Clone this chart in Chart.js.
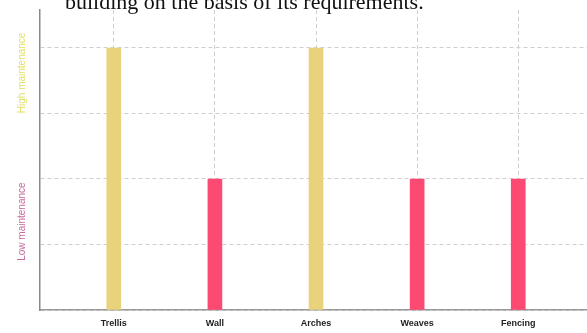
<!DOCTYPE html>
<html>
<head>
<meta charset="utf-8">
<script src="https://cdn.jsdelivr.net/npm/chart.js@4/dist/chart.umd.min.js"></script>
<style>
  html, body { margin: 0; padding: 0; background: #fff; }
  #wrap { position: relative; width: 587px; height: 333px; overflow: hidden; }
  #heading {
    position: absolute; left: 65px; top: -11px; margin: 0;
    font: 22px "Liberation Serif", "Times New Roman", serif; color: #111;
    white-space: nowrap; z-index: 2;
  }
  canvas { position: absolute; left: 0; top: 0; }
</style>
</head>
<body>
<div id="wrap">
  <p id="heading">building on the basis of its requirements.</p>
  <canvas id="chart" width="587" height="333"></canvas>
</div>
<script>
// Structures and their maintenance level (4 = high, 2 = low)
const categories = ['Trellis', 'Wall', 'Arches', 'Weaves', 'Fencing'];
const maintenance = [4, 2, 4, 2, 2];
const levelNames = ['High maintenance', 'Low maintenance'];
const levelValues = [3.62, 1.35];

const YELLOW = '#e9d27c';
const PINK = '#fd4a72';
const barColors = maintenance.map(v => (v >= 4 ? YELLOW : PINK));

// Rotated level names drawn beside the y axis
const levelLabels = {
  id: 'levelLabels',
  afterDraw(chart) {
    const { ctx, scales: { y } } = chart;
    const colors = ['#e3df62', '#c7689a'];
    ctx.save();
    ctx.font = '10px "Liberation Sans", Arial, sans-serif';
    ctx.textAlign = 'center';
    ctx.textBaseline = 'middle';
    levelNames.forEach((name, i) => {
      ctx.save();
      ctx.translate(22, y.getPixelForValue(levelValues[i]));
      ctx.rotate(-Math.PI / 2);
      ctx.fillStyle = colors[i];
      ctx.fillText(name, 0, 0);
      ctx.restore();
    });
    ctx.restore();
  }
};

new Chart(document.getElementById('chart'), {
  type: 'bar',
  data: {
    datasets: [{
      data: maintenance.map((v, i) => ({ x: i, y: v })),
      backgroundColor: barColors,
      borderWidth: 0,
      barThickness: 14
    }]
  },
  options: {
    responsive: false,
    animation: false,
    events: [],
    layout: { padding: { top: 10, left: 0, right: 0, bottom: 0 } },
    plugins: { legend: { display: false }, tooltip: { enabled: false } },
    scales: {
      x: {
        type: 'linear',
        offset: false,
        min: -0.73,
        max: 4.68,
        afterBuildTicks: s => { s.ticks = categories.map((_, i) => ({ value: i })); },
        afterFit: s => { s.height = 23; },
        grid: { offset: false, color: '#cfcfcf', lineWidth: 1, drawTicks: false },
        border: { display: true, color: '#9a9a9a', width: 1.5, dash: [4, 3] },
        ticks: {
          padding: 8,
          autoSkip: false,
          maxRotation: 0,
          color: '#222',
          font: { family: '"Liberation Sans", Arial, sans-serif', size: 9, weight: 'bold' },
          callback: v => categories[v]
        }
      },
      y: {
        min: 0,
        max: 4.58,
        afterBuildTicks: s => { s.ticks = s.ticks.filter(t => Number.isInteger(t.value)); },
        afterFit: s => { s.width = 40; },
        ticks: { display: false, stepSize: 1 },
        grid: { color: '#cfcfcf', lineWidth: 1, drawTicks: false },
        border: { display: true, color: '#8a8a8a', width: 1.5, dash: [4, 3] }
      }
    }
  },
  plugins: [levelLabels]
});
</script>
</body>
</html>
